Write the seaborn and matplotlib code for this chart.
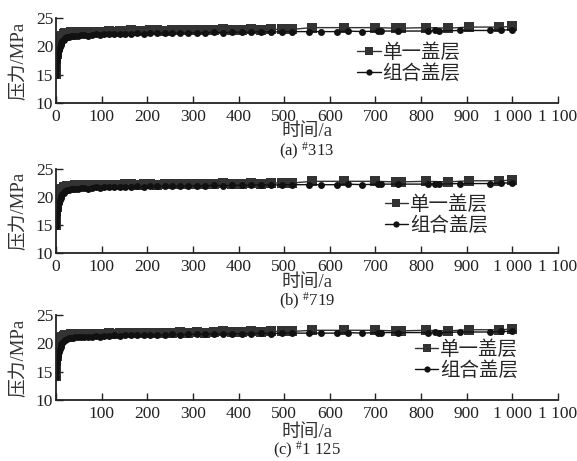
import matplotlib
matplotlib.use("Agg")
import matplotlib.pyplot as plt
import seaborn as sns
import pandas as pd

sns.set_theme(style="ticks")
plt.rcParams['font.family'] = ['Liberation Serif', 'Noto Sans CJK SC', 'DejaVu Sans']
plt.rcParams['mathtext.fontset'] = 'custom'
plt.rcParams['mathtext.rm'] = 'Liberation Serif'
plt.rcParams['mathtext.it'] = 'Liberation Serif'
plt.rcParams['mathtext.default'] = 'rm'

series_names = ["单一盖层", "组合盖层"]
captions = ["(a) $^{\\#}$313", "(b) $^{\\#}$719", "(c) $^{\\#}$1 125"]
x_ticks = [0, 100, 200, 300, 400, 500, 600, 700, 800, 900, 1000, 1100]
x_tick_labels = ["0", "100", "200", "300", "400", "500", "600", "700", "800", "900", "1 000", "1 100"]
y_ticks = [10, 15, 20, 25]

time_single = [0, 0.5, 1, 2, 3, 4, 5, 6, 8, 10, 12, 14, 17, 20, 24, 28, 32, 37, 42, 48,
               55, 62, 70, 78, 87, 96, 106, 117, 128, 140, 152, 165, 178, 192, 207, 222, 238, 255, 272, 290,
               308, 327, 346, 366, 386, 407, 428, 450, 472, 495, 518, 560, 630, 700, 745, 755, 810, 860, 905, 970,
               1000]
time_combined = [0, 0.5, 1, 2, 3, 4, 5, 6, 8, 10, 12, 14, 17, 20, 24, 28, 32, 37, 42, 48,
                 55, 62, 70, 78, 87, 96, 106, 117, 128, 140, 152, 165, 178, 192, 207, 222, 238, 255, 272, 290,
                 308, 327, 346, 366, 386, 407, 428, 450, 472, 495, 518, 555, 580, 615, 640, 670, 705, 712, 750, 815,
                 830, 840, 885, 950, 975, 1000]

# panel (a) #313
single_313 = [15.2, 16.5, 17.5, 18.6, 19.3, 19.8, 20.2, 20.5, 21.0, 21.4,
              21.7, 21.9, 22.1, 22.3, 22.4, 22.4, 22.5, 22.5, 22.5, 22.5,
              22.6, 22.5, 22.5, 22.6, 22.6, 22.5, 22.6, 22.7, 22.6, 22.7,
              22.7, 22.8, 22.7, 22.7, 22.8, 22.8, 22.7, 22.8, 22.9, 22.8,
              22.9, 22.8, 22.9, 23.0, 22.9, 22.9, 23.0, 22.9, 23.0, 23.0,
              23.0, 23.3, 23.3, 23.3, 23.2, 23.2, 23.3, 23.2, 23.4, 23.4,
              23.5]
combined_313 = [15.0, 15.8, 16.5, 17.4, 18.0, 18.5, 18.9, 19.3, 19.8, 20.2,
                20.6, 20.9, 21.2, 21.4, 21.6, 21.7, 21.8, 21.8, 21.9, 21.9,
                22.0, 22.0, 21.9, 22.0, 22.1, 22.0, 22.1, 22.1, 22.2, 22.1,
                22.2, 22.2, 22.3, 22.2, 22.3, 22.3, 22.3, 22.4, 22.3, 22.4,
                22.4, 22.4, 22.5, 22.4, 22.5, 22.5, 22.5, 22.6, 22.5, 22.6,
                22.6, 22.6, 22.6, 22.6, 22.7, 22.6, 22.7, 22.7, 22.7, 22.7,
                22.8, 22.7, 22.8, 22.8, 22.9, 22.9]

# panel (b) #719
single_719 = [15.0, 16.2, 17.2, 18.3, 19.0, 19.5, 19.9, 20.2, 20.6, 21.0,
              21.3, 21.5, 21.7, 21.8, 21.9, 22.0, 22.0, 22.0, 22.1, 22.0,
              22.1, 22.1, 22.0, 22.1, 22.2, 22.1, 22.2, 22.2, 22.1, 22.2,
              22.3, 22.3, 22.2, 22.3, 22.3, 22.2, 22.3, 22.4, 22.3, 22.4,
              22.4, 22.3, 22.4, 22.5, 22.4, 22.4, 22.5, 22.4, 22.5, 22.5,
              22.5, 22.8, 22.8, 22.8, 22.7, 22.7, 22.8, 22.7, 22.9, 22.9,
              23.0]
combined_719 = [14.8, 15.5, 16.2, 17.0, 17.6, 18.1, 18.5, 18.9, 19.4, 19.8,
                20.2, 20.5, 20.8, 21.0, 21.2, 21.3, 21.4, 21.4, 21.5, 21.5,
                21.6, 21.6, 21.5, 21.6, 21.7, 21.6, 21.7, 21.7, 21.8, 21.7,
                21.8, 21.8, 21.9, 21.8, 21.9, 21.9, 21.9, 22.0, 21.9, 22.0,
                22.0, 22.0, 22.1, 22.0, 22.1, 22.1, 22.1, 22.2, 22.1, 22.2,
                22.2, 22.2, 22.2, 22.2, 22.3, 22.2, 22.3, 22.3, 22.3, 22.3,
                22.4, 22.3, 22.4, 22.4, 22.5, 22.5]

# panel (c) #1 125
single_1125 = [14.2, 15.6, 16.7, 17.8, 18.6, 19.1, 19.5, 19.8, 20.2, 20.6,
               20.9, 21.1, 21.3, 21.4, 21.5, 21.5, 21.6, 21.6, 21.6, 21.6,
               21.7, 21.6, 21.6, 21.7, 21.7, 21.6, 21.7, 21.8, 21.7, 21.8,
               21.8, 21.9, 21.8, 21.8, 21.9, 21.9, 21.8, 21.9, 22.0, 21.9,
               22.0, 21.9, 22.0, 22.1, 22.0, 22.0, 22.1, 22.0, 22.1, 22.1,
               22.1, 22.3, 22.3, 22.3, 22.2, 22.2, 22.3, 22.2, 22.4, 22.4,
               22.5]
combined_1125 = [14.0, 14.9, 15.7, 16.6, 17.2, 17.7, 18.1, 18.5, 19.0, 19.4,
                 19.8, 20.1, 20.4, 20.6, 20.8, 20.9, 21.0, 21.0, 21.1, 21.1,
                 21.2, 21.2, 21.1, 21.2, 21.3, 21.2, 21.3, 21.3, 21.4, 21.3,
                 21.4, 21.4, 21.5, 21.4, 21.5, 21.5, 21.5, 21.6, 21.5, 21.6,
                 21.6, 21.6, 21.7, 21.6, 21.7, 21.7, 21.7, 21.8, 21.7, 21.8,
                 21.8, 21.8, 21.8, 21.8, 21.9, 21.8, 21.9, 21.9, 21.9, 21.9,
                 22.0, 21.9, 22.0, 22.0, 22.1, 22.1]

panels = [(single_313, combined_313), (single_719, combined_719), (single_1125, combined_1125)]

W, H = 577, 461
fig = plt.figure(figsize=(W / 100, H / 100), dpi=100)
fig.patch.set_facecolor('white')

# axes boxes in pixels: (left, top, right, bottom)
boxes = [(56, 18, 558, 103), (56, 169, 558, 253), (56, 315, 558, 400)]
legend_anchor = [(0.60, 0.72), (0.655, 0.70), (0.715, 0.72)]
xlabel_y = [131, 282, 432]
caption_y = [151, 301, 450]

for i, (single, combined) in enumerate(panels):
    l, t, r, b = boxes[i]
    ax = fig.add_axes([l / W, 1 - b / H, (r - l) / W, (b - t) / H])
    df = pd.concat([
        pd.DataFrame({"time": time_single, "pressure": single, "series": series_names[0]}),
        pd.DataFrame({"time": time_combined, "pressure": combined, "series": series_names[1]}),
    ])
    sns.lineplot(data=df, x="time", y="pressure", hue="series", style="series",
                 markers={series_names[0]: "s", series_names[1]: "o"}, dashes=False,
                 palette={series_names[0]: "#333333", series_names[1]: "#111111"},
                 estimator=None, sort=False, ax=ax, linewidth=1.0,
                 markeredgewidth=0, legend=True)
    for line, ms in zip(ax.get_lines()[:2], [7.5, 5.0]):
        line.set_markersize(ms)
    handles, labels = ax.get_legend_handles_labels()
    for h, ms in zip(handles, [5.5, 4.5]):
        h.set_markersize(ms)
        h.set_markeredgewidth(0)
    ax.legend(handles, labels, loc="upper left", bbox_to_anchor=legend_anchor[i],
              frameon=False, handlelength=1.2, handletextpad=0.1, labelspacing=0.0,
              borderpad=0, borderaxespad=0,
              prop={"family": ["Noto Sans CJK SC"], "size": 14})
    ax.set_xlim(0, 1100)
    ax.set_ylim(10, 25)
    ax.set_xticks(x_ticks)
    labels_x = list(x_tick_labels)
    if i == 2:
        labels_x[0] = ""
    ax.set_xticklabels(labels_x)
    ax.set_yticks(y_ticks)
    ax.tick_params(direction="in", length=5, width=1, labelsize=12.5, colors="#222222")
    ax.tick_params(axis="x", pad=4)
    ax.tick_params(axis="y", pad=2)
    for s in ["top", "right"]:
        ax.spines[s].set_visible(False)
    for s in ["left", "bottom"]:
        ax.spines[s].set_linewidth(1.3)
        ax.spines[s].set_color("#222222")
    ax.set_xlabel("")
    ax.set_ylabel("")
    ax.set_facecolor("white")
    cy = 1 - ((t + b) / 2) / H
    fig.text(19 / W, cy, "压力/MPa", rotation=90, ha="center", va="center",
             fontsize=13.5, color="#333333")
    fig.text(307 / W, 1 - xlabel_y[i] / H, "时间/a", ha="center", va="center",
             fontsize=13.5, color="#333333")
    fig.text(307 / W, 1 - caption_y[i] / H, captions[i], ha="center", va="center",
             fontsize=12, color="#222222")

fig.savefig("out.png", dpi=100, facecolor="white")
